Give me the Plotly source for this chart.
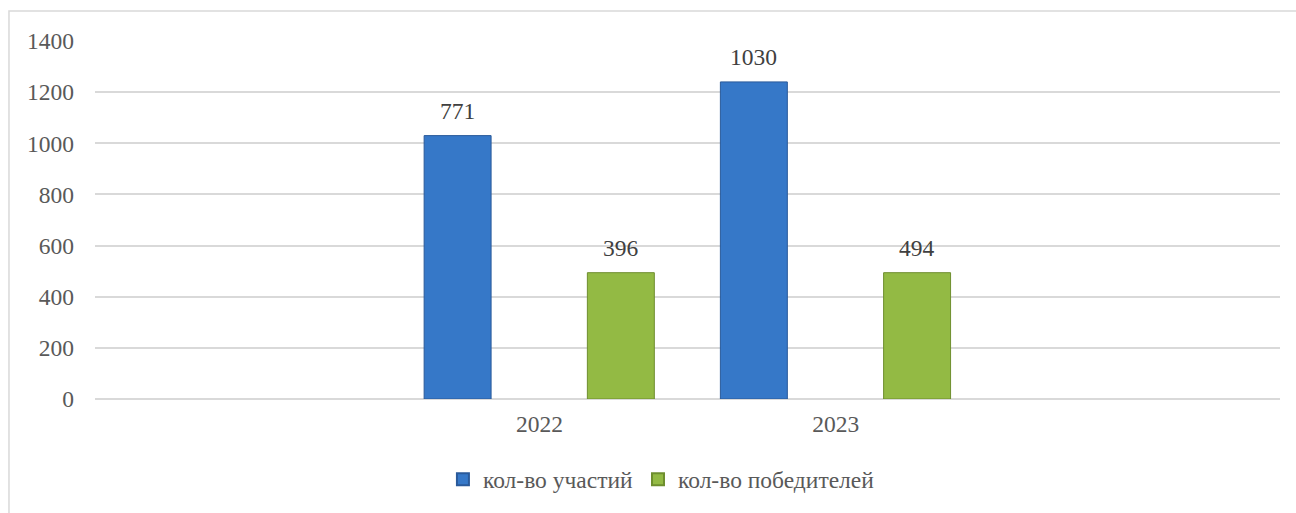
import plotly.graph_objects as go

years = ["2022", "2023"]
series_names = ["кол-во участий", "кол-во победителей"]
participants = [1030, 1240]          # bar heights as drawn
winners = [494, 494]                 # bar heights as drawn
participants_labels = ["771", "1030"]  # data labels as printed
winners_labels = ["396", "494"]
y_ticks = [0, 200, 400, 600, 800, 1000, 1200, 1400]

FONT = "Times New Roman, Liberation Serif, DejaVu Serif, serif"
FS = 23.5
BAR_W = 0.226
OFFSETS = [-0.389, 0.162]
COLORS = ["#3678C8", "#93BA44"]
LINES = ["#2A5A9A", "#6E8E2E"]

fig = go.Figure()
for name, vals, off, col, lc in zip(series_names, [participants, winners], OFFSETS, COLORS, LINES):
    fig.add_trace(go.Bar(
        x=years, y=vals, name=name, width=BAR_W, offset=off,
        marker=dict(color=col, line=dict(color=lc, width=1)),
    ))

annotations = []
for labels, vals, off in [(participants_labels, participants, OFFSETS[0]), (winners_labels, winners, OFFSETS[1])]:
    for i, (lab, v) in enumerate(zip(labels, vals)):
        annotations.append(dict(
            x=i + off + BAR_W / 2, y=v, xref="x", yref="y", text=lab,
            showarrow=False, yanchor="bottom", yshift=10,
            font=dict(family=FONT, size=FS, color="#404040"),
        ))

fig.update_layout(
    width=1296, height=513,
    margin=dict(l=95, r=16, t=41, b=114),
    paper_bgcolor="white", plot_bgcolor="white",
    font=dict(family=FONT, size=FS, color="#595959"),
    barmode="group",
    showlegend=True,
    legend=dict(orientation="h", x=0.478, xanchor="center", y=-0.163, yanchor="top",
                font=dict(family=FONT, size=FS, color="#595959"),
                itemwidth=30, itemsizing="constant", tracegroupgap=0),
    annotations=annotations,
    shapes=[dict(type="rect", xref="paper", yref="paper",
                 x0=-0.0726, x1=1.03, y0=-0.45, y1=1.0838,
                 line=dict(color="#d9d9d9", width=1.5), fillcolor="rgba(0,0,0,0)",
                 layer="below")],
)
fig.update_xaxes(type="category", range=[-1.5, 2.5], showgrid=False, showline=False,
                 ticks="", ticklabelstandoff=8,
                 tickfont=dict(family=FONT, size=FS, color="#595959"))
fig.update_yaxes(range=[0, 1400], tickvals=y_ticks, showgrid=True, gridcolor="#d9d9d9",
                 gridwidth=1.5, zeroline=True, zerolinecolor="#d9d9d9", zerolinewidth=1.5,
                 showline=False, ticks="", ticklabelstandoff=20,
                 tickfont=dict(family=FONT, size=FS, color="#595959"))

fig.write_html("out.html", config={"displayModeBar": False},
               post_script="document.body.style.margin='0';")
